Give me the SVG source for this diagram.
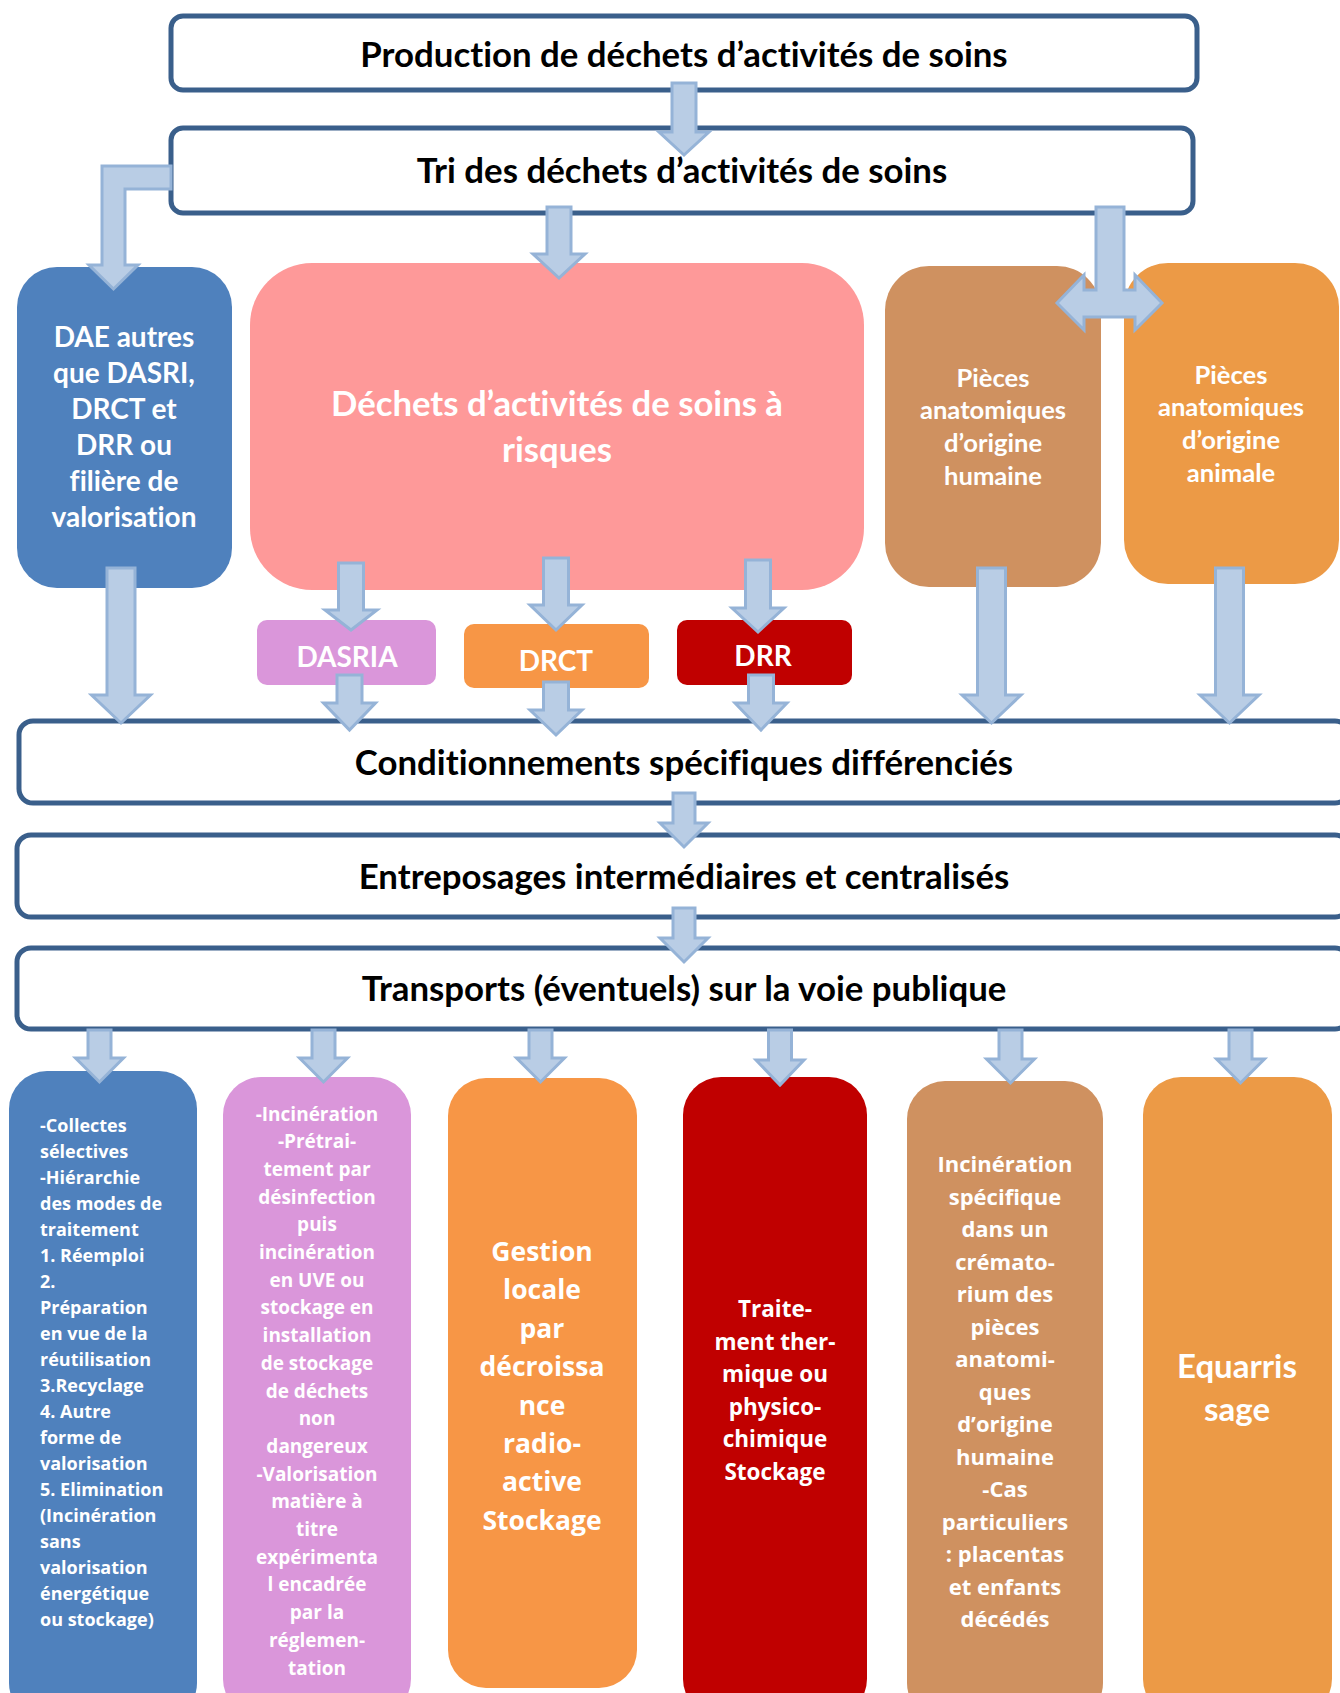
<svg xmlns="http://www.w3.org/2000/svg" width="1340" height="1693" viewBox="0 0 1340 1693">
<style>
.tb{fill:#fff;stroke:#3A5F8B;stroke-width:5}
.tt{font-family:Lato,"Liberation Sans",sans-serif;font-weight:bold;font-size:34.8px;fill:#000;text-anchor:middle;font-variant-ligatures:none}
.nt{font-family:Lato,"Liberation Sans",sans-serif;font-weight:bold;fill:#fff;text-anchor:middle;font-variant-ligatures:none}
.lt{font-family:"Open Sans","DejaVu Sans",sans-serif;font-weight:bold;fill:#fff;text-anchor:middle}
.ar{fill:#B9CDE5;stroke:#95B3D7;stroke-width:3;stroke-linejoin:miter}
</style>
<rect width="1340" height="1693" fill="#fff"/>

<g id="production"><rect class="tb" x="171" y="16" width="1026" height="74" rx="12"/><text class="tt" x="684" y="67">Production de déchets d’activités de soins</text></g>
<g id="tri"><rect class="tb" x="171" y="128" width="1022" height="85" rx="12"/><text class="tt" x="682" y="183">Tri des déchets d’activités de soins</text></g>

<g id="dae"><rect x="17" y="267" width="215" height="321" rx="40" fill="#4F81BD"/>
<text class="nt" font-size="28"><tspan x="124" y="347">DAE autres</tspan><tspan x="124" y="383">que DASRI,</tspan><tspan x="124" y="419">DRCT et</tspan><tspan x="124" y="455">DRR ou</tspan><tspan x="124" y="491">filière de</tspan><tspan x="124" y="527">valorisation</tspan></text></g>

<g id="risques"><rect x="250" y="263" width="614" height="327" rx="62" fill="#FE9999"/>
<text class="nt" font-size="34.7"><tspan x="557" y="416">Déchets d’activités de soins à</tspan><tspan x="557" y="462">risques</tspan></text></g>

<g id="pieces-humaine"><rect x="885" y="266" width="216" height="321" rx="44" fill="#CF9160"/>
<text class="nt" font-size="25.6"><tspan x="993" y="387">Pièces</tspan><tspan x="993" y="419">anatomiques</tspan><tspan x="993" y="452">d’origine</tspan><tspan x="993" y="485">humaine</tspan></text></g>

<g id="pieces-animale"><rect x="1124" y="263" width="215" height="321" rx="44" fill="#EC9A46"/>
<text class="nt" font-size="25.6"><tspan x="1231" y="384">Pièces</tspan><tspan x="1231" y="416">anatomiques</tspan><tspan x="1231" y="449">d’origine</tspan><tspan x="1231" y="482">animale</tspan></text></g>

<g id="dasria"><rect x="257" y="620" width="179" height="65" rx="10" fill="#DA96DA"/><text class="nt" font-size="28" x="347" y="667">DASRIA</text></g>
<g id="drct"><rect x="464" y="624" width="185" height="64" rx="10" fill="#F79646"/><text class="nt" font-size="28" x="556" y="671">DRCT</text></g>
<g id="drr"><rect x="677" y="620" width="175" height="65" rx="10" fill="#C00000"/><text class="nt" font-size="28" x="763" y="666">DRR</text></g>

<g id="conditionnements"><rect class="tb" x="19" y="721" width="1330" height="82" rx="14"/><text class="tt" x="684" y="775">Conditionnements spécifiques différenciés</text></g>
<g id="entreposages"><rect class="tb" x="17" y="835" width="1332" height="82" rx="14"/><text class="tt" x="684" y="889">Entreposages intermédiaires et centralisés</text></g>
<g id="transports"><rect class="tb" x="17" y="948" width="1332" height="81" rx="14"/><text class="tt" x="684" y="1001">Transports (éventuels) sur la voie publique</text></g>

<g id="filiere-dae"><rect x="9" y="1071" width="188" height="650" rx="38" fill="#4F81BD"/>
<text class="lt" font-size="18" style="text-anchor:start">
<tspan x="40" y="1132">-Collectes</tspan><tspan x="40" y="1158">sélectives</tspan><tspan x="40" y="1184">-Hiérarchie</tspan><tspan x="40" y="1210">des modes de</tspan><tspan x="40" y="1236">traitement</tspan><tspan x="40" y="1262">1. Réemploi</tspan><tspan x="40" y="1288">2.</tspan><tspan x="40" y="1314">Préparation</tspan><tspan x="40" y="1340">en vue de la</tspan><tspan x="40" y="1366">réutilisation</tspan><tspan x="40" y="1392">3.Recyclage</tspan><tspan x="40" y="1418">4. Autre</tspan><tspan x="40" y="1444">forme de</tspan><tspan x="40" y="1470">valorisation</tspan><tspan x="40" y="1496">5. Elimination</tspan><tspan x="40" y="1522">(Incinération</tspan><tspan x="40" y="1548">sans</tspan><tspan x="40" y="1574">valorisation</tspan><tspan x="40" y="1600">énergétique</tspan><tspan x="40" y="1626">ou stockage)</tspan></text></g>

<g id="filiere-dasria"><rect x="223" y="1077" width="188" height="640" rx="38" fill="#DA96DA"/>
<text class="lt" font-size="19">
<tspan x="317" y="1120.5">-Incinération</tspan><tspan x="317" y="1148.2">-Prétrai-</tspan><tspan x="317" y="1175.9">tement par</tspan><tspan x="317" y="1203.6">désinfection</tspan><tspan x="317" y="1231.3">puis</tspan><tspan x="317" y="1259">incinération</tspan><tspan x="317" y="1286.7">en UVE ou</tspan><tspan x="317" y="1314.4">stockage en</tspan><tspan x="317" y="1342.1">installation</tspan><tspan x="317" y="1369.8">de stockage</tspan><tspan x="317" y="1397.5">de déchets</tspan><tspan x="317" y="1425.2">non</tspan><tspan x="317" y="1452.9">dangereux</tspan><tspan x="317" y="1480.6">-Valorisation</tspan><tspan x="317" y="1508.3">matière à</tspan><tspan x="317" y="1536">titre</tspan><tspan x="317" y="1563.7">expérimenta</tspan><tspan x="317" y="1591.4">l encadrée</tspan><tspan x="317" y="1619.1">par la</tspan><tspan x="317" y="1646.8">réglemen-</tspan><tspan x="317" y="1674.5">tation</tspan></text></g>

<g id="filiere-drct"><rect x="448" y="1078" width="189" height="610" rx="38" fill="#F79646"/>
<text class="lt" font-size="26.5"><tspan x="542" y="1261">Gestion</tspan><tspan x="542" y="1299.4">locale</tspan><tspan x="542" y="1337.8">par</tspan><tspan x="542" y="1376.2">décroissa</tspan><tspan x="542" y="1414.6">nce</tspan><tspan x="542" y="1453">radio-</tspan><tspan x="542" y="1491.4">active</tspan><tspan x="542" y="1529.8">Stockage</tspan></text></g>

<g id="filiere-drr"><rect x="683" y="1077" width="184" height="640" rx="38" fill="#C00000"/>
<text class="lt" font-size="22.5"><tspan x="775" y="1317">Traite-</tspan><tspan x="775" y="1349.5">ment ther-</tspan><tspan x="775" y="1382">mique ou</tspan><tspan x="775" y="1414.5">physico-</tspan><tspan x="775" y="1447">chimique</tspan><tspan x="775" y="1479.5">Stockage</tspan></text></g>

<g id="filiere-humaine"><rect x="907" y="1081" width="196" height="640" rx="38" fill="#CF9160"/>
<text class="lt" font-size="22"><tspan x="1005" y="1172">Incinération</tspan><tspan x="1005" y="1204.5">spécifique</tspan><tspan x="1005" y="1237">dans un</tspan><tspan x="1005" y="1269.5">crémato-</tspan><tspan x="1005" y="1302">rium des</tspan><tspan x="1005" y="1334.5">pièces</tspan><tspan x="1005" y="1367">anatomi-</tspan><tspan x="1005" y="1399.5">ques</tspan><tspan x="1005" y="1432">d’origine</tspan><tspan x="1005" y="1464.5">humaine</tspan><tspan x="1005" y="1497">-Cas</tspan><tspan x="1005" y="1529.5">particuliers</tspan><tspan x="1005" y="1562">: placentas</tspan><tspan x="1005" y="1594.5">et enfants</tspan><tspan x="1005" y="1627">décédés</tspan></text></g>

<g id="filiere-animale"><rect x="1143" y="1077" width="189" height="640" rx="38" fill="#EC9A46"/>
<text class="nt" font-size="33"><tspan x="1237" y="1378">Equarris</tspan><tspan x="1237" y="1421">sage</tspan></text></g>

<g id="connectors">
<path class="ar" d="M672,83 H696 V132 H709 L684,155 L659,132 H672 Z"/>
<path class="ar" d="M547,207 H571 V254 H585 L559,278 L533,254 H547 Z"/>
<path class="ar" d="M171,166 H102 V265 H89 L113.5,289 L138,265 H125 V189 H171 Z"/>
<path class="ar" d="M1096,207 H1124 V290 H1135 V275 L1162,303 L1135,330 V317 H1084 V330 L1057,303 L1084,275 V290 H1096 Z"/>
<path class="ar" d="M338.5,563 H363.5 V610 H377 L351,630 L325,610 H338.5 Z"/>
<path class="ar" d="M543.5,558 H568.5 V605 H582 L556,630 L530,605 H543.5 Z"/>
<path class="ar" d="M745.5,560 H770.5 V608 H784 L758,632 L732,608 H745.5 Z"/>
<path class="ar" d="M337,675 H362 V703 H375.5 L349.5,730 L323.5,703 H337 Z"/>
<path class="ar" d="M543.5,682 H568.5 V710 H582 L556,735 L530,710 H543.5 Z"/>
<path class="ar" d="M748.5,675 H773.5 V703 H787 L761,730 L735,703 H748.5 Z"/>
<path class="ar" d="M107,568 H135 V695 H150.5 L121,723 L91.5,695 H107 Z"/>
<path class="ar" d="M977.5,568 H1005.5 V695 H1021 L991.5,723 L962,695 H977.5 Z"/>
<path class="ar" d="M1215.5,568 H1243.5 V695 H1259 L1229.5,723 L1200,695 H1215.5 Z"/>
<path class="ar" d="M673,793 H695 V823 H708 L684,847 L660,823 H673 Z"/>
<path class="ar" d="M673,908 H695 V938 H708 L684,962 L660,938 H673 Z"/>
<path class="ar" d="M88,1030 H111 V1058 H123.5 L99.5,1082 L75.5,1058 H88 Z"/>
<path class="ar" d="M312,1030 H335 V1058 H347.5 L323.5,1082 L299.5,1058 H312 Z"/>
<path class="ar" d="M529,1030 H552 V1058 H564.5 L540.5,1082 L516.5,1058 H529 Z"/>
<path class="ar" d="M768.5,1030 H791.5 V1060 H804 L780,1085 L756,1060 H768.5 Z"/>
<path class="ar" d="M999,1030 H1022 V1059 H1034.5 L1010.5,1083 L986.5,1059 H999 Z"/>
<path class="ar" d="M1229,1030 H1252 V1059 H1264.5 L1240.5,1083 L1216.5,1059 H1229 Z"/>
</g>
</svg>
